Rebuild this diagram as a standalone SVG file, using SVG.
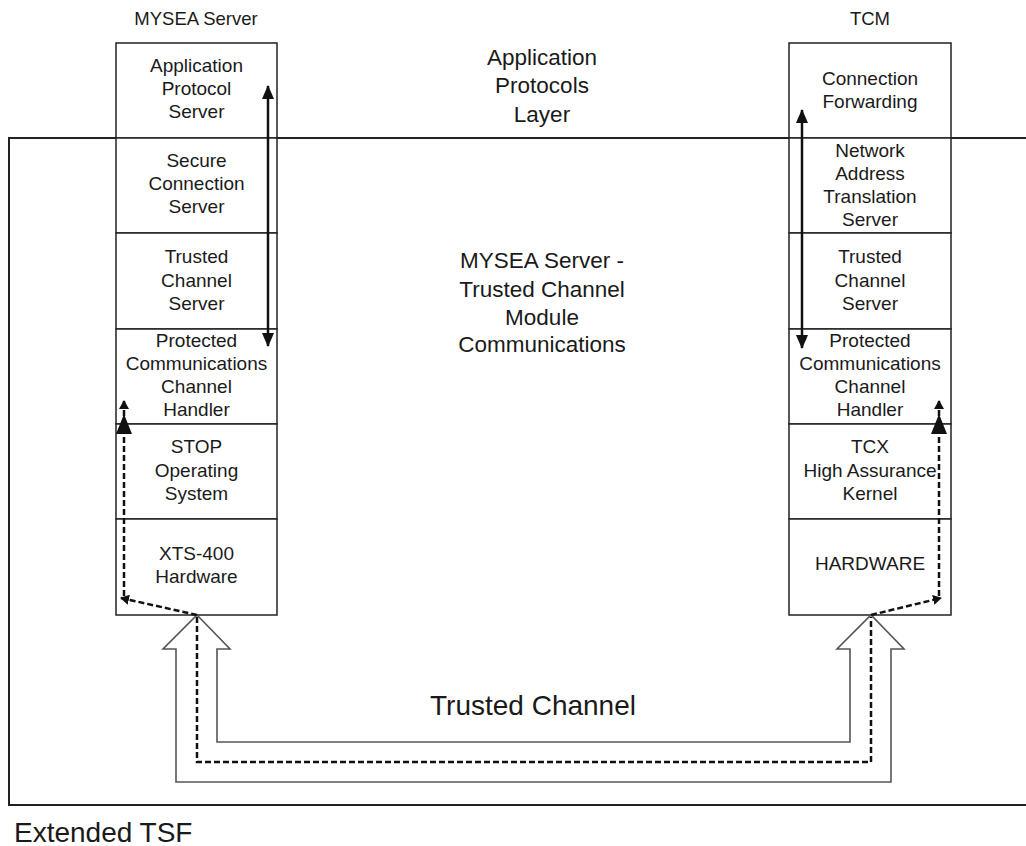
<svg xmlns="http://www.w3.org/2000/svg" width="1026" height="846" viewBox="0 0 1026 846">
<defs>
<marker id="ah" markerUnits="userSpaceOnUse" markerWidth="14" markerHeight="12" viewBox="0 0 14 12" refX="13" refY="6" orient="auto-start-reverse"><path d="M0,0 L14,6 L0,12 Z" fill="#111"/></marker>
<marker id="ahs" markerUnits="userSpaceOnUse" markerWidth="9" markerHeight="10" viewBox="0 0 9 10" refX="8" refY="5" orient="auto"><path d="M0,0 L9,5 L0,10 Z" fill="#111"/></marker>
</defs>
<style>
text{font-family:"Liberation Sans",Arial,sans-serif;fill:#1a1a1a;text-anchor:middle}
.cell{font-size:19px}
.big{font-size:22.5px}
.box{fill:#fff;stroke:#222;stroke-width:1.5}
.frame{fill:none;stroke:#222;stroke-width:2}
.solid{stroke:#111;stroke-width:2.5;fill:none}
.dash{stroke:#111;stroke-width:2.5;fill:none;stroke-dasharray:6 3}
.block{fill:#fff;stroke:#555;stroke-width:1.6}
</style>
<rect width="1026" height="846" fill="#fff"/>

<g id="frame">
<path class="frame" d="M1026,138 H9 V805 H1026"/>
</g>

<g id="labels">
<text x="196" y="25" style="font-size:18.5px">MYSEA Server</text>
<text x="870" y="25" style="font-size:18.5px">TCM</text>
<text class="big" x="542" y="65">Application</text>
<text class="big" x="542" y="93">Protocols</text>
<text class="big" x="542" y="122">Layer</text>
<text class="big" x="542" y="268">MYSEA Server -</text>
<text class="big" x="542" y="297">Trusted Channel</text>
<text class="big" x="542" y="325">Module</text>
<text class="big" x="542" y="352">Communications</text>
<text x="533" y="715" style="font-size:28px">Trusted Channel</text>
<text x="14" y="842" style="font-size:28px;text-anchor:start">Extended TSF</text>
</g>

<g id="mysea">
<g id="m-app"><rect class="box" x="116" y="43" width="161" height="95"/>
<text class="cell" x="196.5" y="72">Application</text><text class="cell" x="196.5" y="95">Protocol</text><text class="cell" x="196.5" y="118">Server</text></g>
<g id="m-scs"><rect class="box" x="116" y="138" width="161" height="95"/>
<text class="cell" x="196.5" y="167">Secure</text><text class="cell" x="196.5" y="190">Connection</text><text class="cell" x="196.5" y="213">Server</text></g>
<g id="m-tcs"><rect class="box" x="116" y="233" width="161" height="96"/>
<text class="cell" x="196.5" y="263">Trusted</text><text class="cell" x="196.5" y="287">Channel</text><text class="cell" x="196.5" y="310">Server</text></g>
<g id="m-pcch"><rect class="box" x="116" y="329" width="161" height="95"/>
<text class="cell" x="196.5" y="347">Protected</text><text class="cell" x="196.5" y="370">Communications</text><text class="cell" x="196.5" y="393">Channel</text><text class="cell" x="196.5" y="416">Handler</text></g>
<g id="m-stop"><rect class="box" x="116" y="424" width="161" height="95"/>
<text class="cell" x="196.5" y="453">STOP</text><text class="cell" x="196.5" y="477">Operating</text><text class="cell" x="196.5" y="500">System</text></g>
<g id="m-hw"><rect class="box" x="116" y="519" width="161" height="96"/>
<text class="cell" x="196.5" y="560">XTS-400</text><text class="cell" x="196.5" y="583">Hardware</text></g>
</g>

<g id="tcm">
<g id="t-cf"><rect class="box" x="789" y="43" width="162" height="95"/>
<text class="cell" x="870" y="85">Connection</text><text class="cell" x="870" y="108">Forwarding</text></g>
<g id="t-nat"><rect class="box" x="789" y="138" width="162" height="95"/>
<text class="cell" x="870" y="157">Network</text><text class="cell" x="870" y="180">Address</text><text class="cell" x="870" y="203">Translation</text><text class="cell" x="870" y="226">Server</text></g>
<g id="t-tcs"><rect class="box" x="789" y="233" width="162" height="96"/>
<text class="cell" x="870" y="263">Trusted</text><text class="cell" x="870" y="287">Channel</text><text class="cell" x="870" y="310">Server</text></g>
<g id="t-pcch"><rect class="box" x="789" y="329" width="162" height="95"/>
<text class="cell" x="870" y="347">Protected</text><text class="cell" x="870" y="370">Communications</text><text class="cell" x="870" y="393">Channel</text><text class="cell" x="870" y="416">Handler</text></g>
<g id="t-tcx"><rect class="box" x="789" y="424" width="162" height="95"/>
<text class="cell" x="870" y="453">TCX</text><text class="cell" x="870" y="477">High Assurance</text><text class="cell" x="870" y="500">Kernel</text></g>
<g id="t-hw"><rect class="box" x="789" y="519" width="162" height="96"/>
<text class="cell" x="870" y="570">HARDWARE</text></g>
</g>

<g id="connectors">
<path class="block" d="M197,615 L230,649 L217,649 L217,742 L850,742 L850,649 L837,649 L871,615 L904,649 L891,649 L891,782 L176,782 L176,649 L163,649 Z"/>
<path class="dash" d="M197,617 V762 H871 V617"/>
<line class="solid" x1="268" y1="86" x2="268" y2="346" marker-start="url(#ah)" marker-end="url(#ah)"/>
<line class="solid" x1="802" y1="110" x2="802" y2="348" marker-start="url(#ah)" marker-end="url(#ah)"/>
<path class="dash" d="M197,615 L121,598" marker-end="url(#ahs)"/>
<path class="dash" d="M124,596 V401" marker-end="url(#ahs)"/>
<path d="M124,414 L132,434 L116,434 Z" fill="#111"/>
<path class="dash" d="M871,615 L941,598" marker-end="url(#ahs)"/>
<path class="dash" d="M939,596 V401" marker-end="url(#ahs)"/>
<path d="M939,414 L947,434 L931,434 Z" fill="#111"/>
</g>
</svg>
